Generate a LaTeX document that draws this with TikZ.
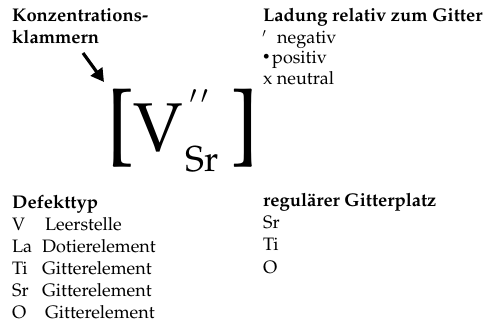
\documentclass[tikz,border=0pt]{standalone}
\usepackage[T1]{fontenc}
\usepackage{textcomp}
\usepackage{mathpazo}
\usetikzlibrary{arrows.meta}

\newcommand{\txtsize}{\fontsize{18}{21.6}\selectfont}

\begin{document}
\begin{tikzpicture}[x=1pt, y=-1pt, >=Stealth,
  lbl/.style={anchor=base west, inner sep=0pt, font=\txtsize},
  hd/.style={lbl, font=\fontsize{18.4}{22}\selectfont\bfseries}]

\useasboundingbox (0,0) rectangle (485,326);

% ---------- Konzentrationsklammern ----------
\node[hd] (konz1) at (12,22) {Konzentrations-};
\node[hd] (konz2) at (12,44) {klammern};

\coordinate (arrowtail) at (83,53);
\coordinate (arrowtip) at (104,82);
\draw[line width=3.2pt, -{Triangle[length=13pt,width=14pt]}] (arrowtail) -- (arrowtip);

% ---------- Kroeger-Vink symbol ----------
\node[lbl, font=\fontsize{86}{86}\selectfont] (lbr) at (106,152) {[};
\node[lbl, font=\fontsize{69}{69}\selectfont] (vac) at (133,152) {V};
\node[lbl, font=\fontsize{24}{24}\selectfont] (chg) at (189,104) {$\prime\,\prime$};
\node[lbl, font=\fontsize{36}{36}\selectfont] (site) at (185,172) {Sr};
\node[lbl, font=\fontsize{86}{86}\selectfont] (rbr) at (230,152) {]};

% ---------- Ladung ----------
\node[hd] (ladung) at (263,22) {Ladung relativ zum Gitter};
\node[lbl, font=\fontsize{12}{12}\selectfont] (negsym) at (262,38) {$\prime$};
\node[lbl] (neg) at (277,44) {negativ};
\node[lbl, font=\fontsize{14}{14}\selectfont] (possym) at (262,62) {\textbullet};
\node[lbl] (pos) at (272,64) {positiv};
\node[lbl] (neu) at (263,85) {x neutral};

% ---------- Defekttyp ----------
\node[hd] (defekt) at (12,208) {Defekttyp};
\node[lbl] (dV) at (12,230) {V};
\node[lbl] (dVt) at (45,230) {Leerstelle};
\node[lbl] (dLa) at (12,252) {La};
\node[lbl] (dLat) at (42,252) {Dotierelement};
\node[lbl] (dTi) at (12,274) {Ti};
\node[lbl] (dTit) at (42,274) {Gitterelement};
\node[lbl] (dSr) at (12,296) {Sr};
\node[lbl] (dSrt) at (42,296) {Gitterelement};
\node[lbl] (dO) at (12,318) {O};
\node[lbl] (dOt) at (45,318) {Gitterelement};

% ---------- regulaerer Gitterplatz ----------
\node[hd] (platz) at (263,207) {regulärer Gitterplatz};
\node[lbl] (pSr) at (263,229) {Sr};
\node[lbl] (pTi) at (263,251) {Ti};
\node[lbl] (pO) at (263,273) {O};

\end{tikzpicture}
\end{document}
